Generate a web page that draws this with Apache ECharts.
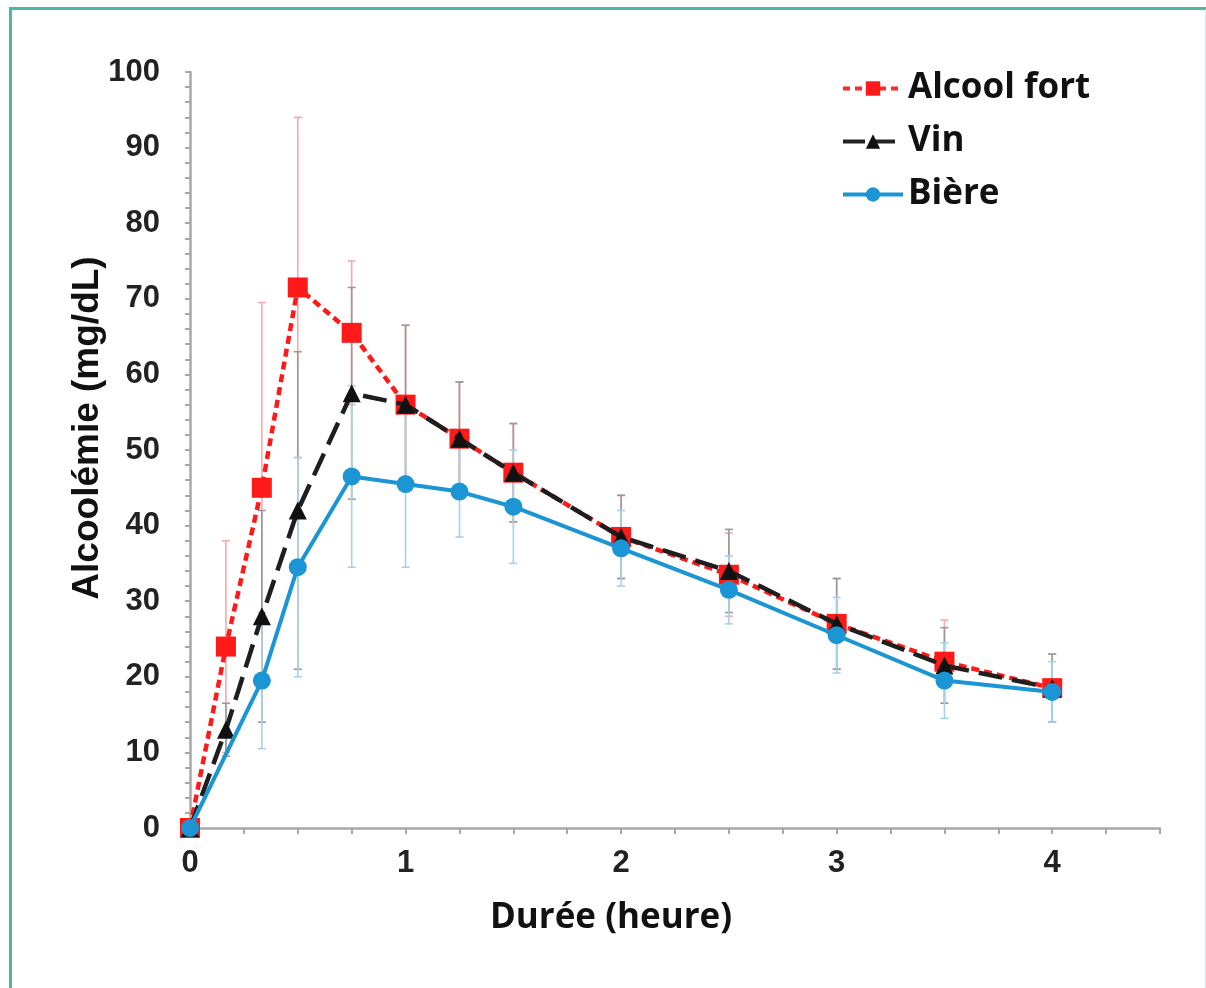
<!DOCTYPE html>
<html>
<head>
<meta charset="utf-8">
<script src="https://cdn.jsdelivr.net/npm/echarts@6/dist/echarts.min.js"></script>
<style>
  html, body { margin: 0; padding: 0; background: #ffffff; }
  #chart { position: absolute; left: 0; top: 0; width: 1206px; height: 988px; }
  #frame { position: absolute; left: 9px; top: 7px; width: 1193px; height: 978px;
           border-left: 3px solid #4cb8a0; border-top: 3px solid #4cb8a0;
           border-right: 2px solid #c6eeee; border-bottom: 1px solid #e6f4f4;
           pointer-events: none; }
</style>
</head>
<body>
<div id="chart"></div>
<div id="frame"></div>
<script>
// ---- data ----
const seriesNames = ['Alcool fort', 'Vin', 'Bière'];

const timesAlcool = [0, 1/6, 1/3, 0.5, 0.75, 1, 1.25, 1.5, 2, 2.5, 3, 3.5, 4];
const meanAlcool  = [0, 24, 45, 71.5, 65.5, 56, 51.5, 47, 38.5, 33.5, 27, 22, 18.5];
const sdAlcool    = [0, 14, 24.5, 22.5, 9.5, 10.5, 7.5, 6.5, 5.5, 5.5, 6, 5.5, 4.5];

const timesVin = [0, 1/6, 1/3, 0.5, 0.75, 1, 1.25, 1.5, 2, 2.5, 3, 3.5, 4];
const meanVin  = [0, 13, 28, 42, 57.5, 56, 51.5, 47, 38.5, 34, 27, 21.5, 18.5];
const sdVin    = [0, 3.5, 14, 21, 14, 10.5, 7.5, 6.5, 5.5, 5.5, 6, 5, 4.5];

const timesBiere = [0, 1/3, 0.5, 0.75, 1, 1.25, 1.5, 2, 2.5, 3, 3.5, 4];
const meanBiere  = [0, 19.5, 34.5, 46.5, 45.5, 44.5, 42.5, 37, 31.5, 25.5, 19.5, 18];
const sdBiere    = [0, 9, 14.5, 12, 11, 6, 7.5, 5, 4.5, 5, 5, 4];

const xTicks = [0, 1, 2, 3, 4];
const yTicks = [0, 10, 20, 30, 40, 50, 60, 70, 80, 90, 100];

const xAxisTitle = 'Durée (heure)';
const yAxisTitle = 'Alcoolémie (mg/dL)';

// ---- build ----
function pts(t, m) { return t.map((x, i) => [x, m[i]]); }
function errs(t, m, s) { return t.map((x, i) => [x, m[i] - s[i], m[i] + s[i]]); }

function errorSeries(data, color) {
  return {
    type: 'custom',
    z: 1,
    silent: true,
    encode: { x: 0, y: [1, 2] },
    data: data,
    renderItem: function (params, api) {
      const x = api.value(0);
      const lo = api.coord([x, api.value(1)]);
      const hi = api.coord([x, api.value(2)]);
      const cap = 4;
      const st = { stroke: color, lineWidth: 1.6 };
      return {
        type: 'group',
        children: [
          { type: 'line', shape: { x1: hi[0], y1: hi[1], x2: lo[0], y2: lo[1] }, style: st },
          { type: 'line', shape: { x1: hi[0] - cap, y1: hi[1], x2: hi[0] + cap, y2: hi[1] }, style: st },
          { type: 'line', shape: { x1: lo[0] - cap, y1: lo[1], x2: lo[0] + cap, y2: lo[1] }, style: st }
        ]
      };
    }
  };
}

const chart = echarts.init(document.getElementById('chart'), null, { renderer: 'canvas' });

const axisLineStyle = { color: '#a8a8a8', width: 2.5 };
const tickLabelStyle = { color: '#222', fontSize: 31, fontFamily: 'Liberation Sans', fontWeight: 'bold' };

const lineRed  = { color: '#ff1a1a', width: 4.5, type: [8, 5] };
const lineVin  = { color: '#1e1e1e', width: 4.5, type: [24, 10] };
const lineBlue = { color: '#1b95d3', width: 4 };

chart.setOption({
  animation: false,
  backgroundColor: '#ffffff',
  grid: { left: 190, right: 46, top: 72, bottom: 160, containLabel: false },
  legend: {
    data: [
      { name: seriesNames[0], lineStyle: { width: 4, type: [7, 5], color: '#ff2a2a' } },
      { name: seriesNames[1], lineStyle: { width: 4, type: [22, 8], color: '#222' } },
      { name: seriesNames[2], lineStyle: { width: 4, color: '#1b95d3' } }
    ],
    left: 836,
    top: 66,
    orient: 'vertical',
    itemWidth: 60,
    itemHeight: 18,
    itemGap: 18,
    selectedMode: false,
    textStyle: { color: '#111', fontSize: 35, fontFamily: 'Open Sans', fontWeight: 'bold', padding: [0, 0, 0, 0] }
  },
  xAxis: {
    type: 'value',
    min: 0,
    max: 4.5,
    interval: 1,
    axisLine: { show: true, lineStyle: axisLineStyle },
    axisTick: { show: true, length: 6, lineStyle: { color: '#a8a8a8', width: 2 } },
    minorTick: { show: true, splitNumber: 4, length: 6, lineStyle: { color: '#a8a8a8', width: 2 } },
    splitLine: { show: false },
    axisLabel: Object.assign({ margin: 20, formatter: v => (xTicks.indexOf(v) >= 0 ? String(v) : '') }, tickLabelStyle)
  },
  yAxis: {
    type: 'value',
    min: 0,
    max: 100,
    interval: 10,
    axisLine: { show: true, lineStyle: axisLineStyle },
    axisTick: { show: true, length: 5, lineStyle: { color: '#a8a8a8', width: 2 } },
    minorTick: { show: true, splitNumber: 5, length: 5, lineStyle: { color: '#a8a8a8', width: 2 } },
    splitLine: { show: false },
    axisLabel: Object.assign({ margin: 30, formatter: v => (yTicks.indexOf(v) >= 0 ? String(v) : '') }, tickLabelStyle)
  },
  graphic: [
    {
      type: 'text', x: 611, y: 918,
      style: { text: xAxisTitle, fill: '#111', font: 'bold 35px "Open Sans"', align: 'center', verticalAlign: 'middle' }
    },
    {
      type: 'text', x: 88, y: 428, rotation: Math.PI / 2,
      style: { text: yAxisTitle, fill: '#111', font: 'bold 37px "Liberation Sans"', align: 'center', verticalAlign: 'middle' }
    }
  ],
  series: [
    errorSeries(errs(timesAlcool, meanAlcool, sdAlcool), '#f6a9a9'),
    errorSeries(errs(timesVin, meanVin, sdVin), '#9a9a9a'),
    errorSeries(errs(timesBiere, meanBiere, sdBiere), '#a6d2ec'),
    {
      name: seriesNames[0], type: 'line', z: 3, data: pts(timesAlcool, meanAlcool),
      symbol: 'rect', symbolSize: 20,
      itemStyle: { color: '#ff1a1a' },
      lineStyle: lineRed
    },
    {
      name: seriesNames[1], type: 'line', z: 4, data: pts(timesVin, meanVin),
      symbol: 'triangle', symbolSize: 18,
      itemStyle: { color: '#111' },
      lineStyle: lineVin
    },
    {
      name: seriesNames[2], type: 'line', z: 5, data: pts(timesBiere, meanBiere),
      symbol: 'circle', symbolSize: 18,
      itemStyle: { color: '#1b95d3' },
      lineStyle: lineBlue
    }
  ]
});
</script>
</body>
</html>
